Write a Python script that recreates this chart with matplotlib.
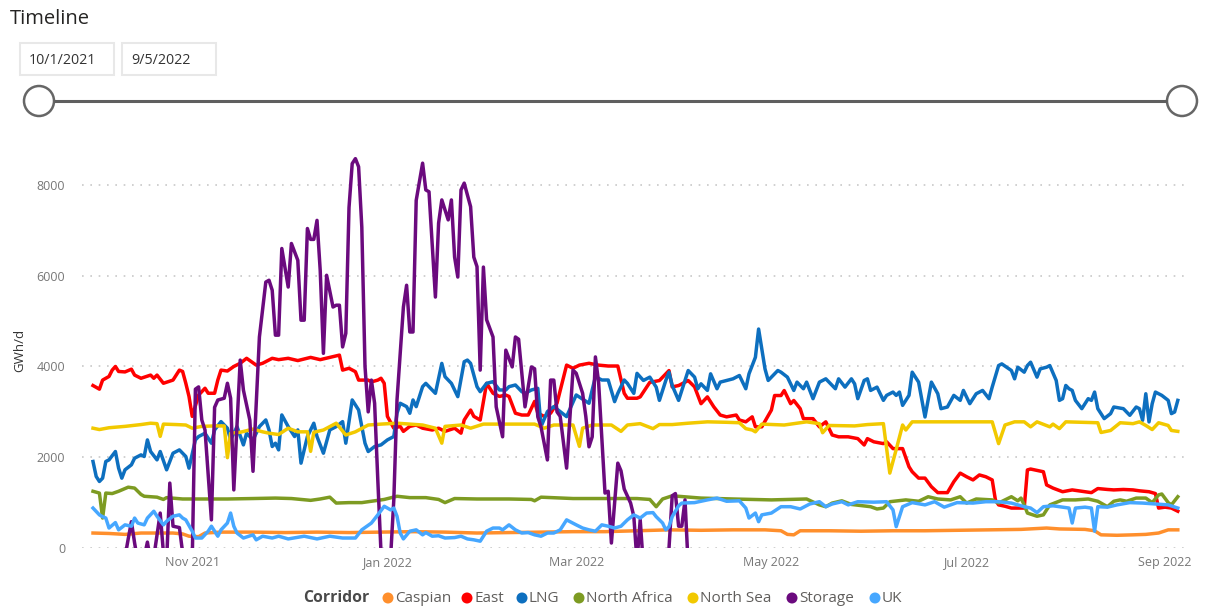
import matplotlib
matplotlib.use("Agg")
import matplotlib.pyplot as plt
import matplotlib.dates as mdates
from matplotlib.patches import Rectangle, Circle
import pandas as pd

plt.rcParams['font.family'] = ['Open Sans', 'DejaVu Sans']

# --- DATA (day offset from 1 Oct 2021, GWh/d) ---
start = pd.Timestamp("2021-10-01")

corridors = ['Caspian', 'East', 'LNG', 'North Africa', 'North Sea', 'Storage', 'UK']
colors = ['#FF8F2C', '#FF0000', '#0D6FBF', '#7D9B22', '#F2C900', '#6B0A7E', '#46A7FF']

caspian = [(0, 330), (5, 320), (10, 300), (15, 330), (20, 330), (25, 330), (28, 310), (30, 260),
           (33, 250), (35, 330), (40, 350), (50, 350), (60, 340), (70, 350), (80, 340), (90, 350),
           (100, 360), (110, 350), (120, 330), (130, 340), (140, 350), (150, 360), (160, 360),
           (170, 380), (180, 400), (190, 390), (200, 400), (210, 400), (215, 380), (217, 300),
           (219, 290), (221, 380), (230, 380), (240, 370), (250, 380), (260, 380), (270, 390),
           (280, 400), (290, 410), (298, 440), (302, 420), (310, 410), (313, 380), (315, 290),
           (320, 280), (325, 290), (329, 300), (333, 330), (336, 400), (339, 400)]

east = [(0, 3580), (2, 3500), (3, 3700), (5, 3780), (6, 3920), (7, 4000), (8, 3890), (10, 3880),
        (12, 3940), (13, 3810), (15, 3740), (18, 3810), (19, 3740), (20, 3810), (22, 3630),
        (25, 3700), (27, 3920), (28, 3890), (29, 3630), (30, 3340), (31, 2900), (33, 3370),
        (35, 3520), (36, 3410), (38, 3410), (39, 3700), (40, 3920), (42, 3900), (44, 4000),
        (46, 4070), (48, 4180), (51, 4030), (53, 4070), (56, 4180), (58, 4150), (61, 4180),
        (64, 4130), (68, 4200), (71, 4150), (74, 4200), (77, 4250), (78, 3920), (80, 3960),
        (82, 3885), (83, 3700), (86, 3700), (87, 3660), (89, 3700), (90, 3740), (91, 3630),
        (92, 2900), (94, 2640), (96, 2680), (97, 2570), (99, 2680), (101, 2710), (103, 2640),
        (106, 2600), (108, 2640), (110, 2570), (113, 2640), (115, 2530), (116, 2820), (118, 3040),
        (119, 2900), (121, 2820), (123, 3630), (125, 3410), (127, 3340), (129, 3370), (130, 3340),
        (132, 2970), (134, 2930), (136, 2930), (138, 3230), (139, 2970), (141, 2900), (143, 2970),
        (145, 3190), (148, 4030), (150, 3960), (152, 4030), (155, 4070), (158, 4030), (161, 4010),
        (164, 4010), (166, 3410), (167, 3300), (170, 3300), (171, 3330), (174, 3650), (177, 3690),
        (180, 3910), (181, 3550), (183, 3580), (186, 3690), (188, 3550), (190, 3180), (192, 3330),
        (194, 3110), (196, 2930), (198, 2890), (201, 2930), (202, 2820), (204, 2780), (206, 2890),
        (207, 2670), (209, 2670), (212, 3040), (213, 3360), (215, 3360), (216, 3470), (218, 3180),
        (219, 3250), (221, 3070), (222, 2850), (225, 2850), (227, 2670), (229, 2780), (231, 2490),
        (233, 2450), (236, 2450), (239, 2410), (241, 2270), (242, 2410), (244, 2340), (247, 2300),
        (248, 2340), (250, 2190), (252, 2190), (253, 2190), (255, 1790), (256, 1680), (258, 1540),
        (260, 1540), (262, 1350), (264, 1220), (267, 1220), (269, 1460), (271, 1650), (273, 1570),
        (275, 1500), (277, 1610), (279, 1570), (281, 1500), (282, 1060), (283, 950), (285, 920),
        (287, 880), (291, 880), (292, 1720), (293, 1740), (297, 1680), (298, 1390), (300, 1320),
        (303, 1240), (306, 1280), (310, 1240), (312, 1220), (314, 1310), (317, 1290), (319, 1280),
        (322, 1290), (325, 1280), (327, 1260), (330, 1240), (332, 1200), (333, 880), (335, 900),
        (337, 880), (339, 810)]

lng = [(0, 1906), (1, 1576), (2, 1466), (3, 1539), (4, 1906), (5, 1942), (7, 2126), (8, 1759),
       (9, 1539), (10, 1723), (12, 1833), (13, 1979), (15, 2052), (16, 2016), (17, 2382), (18, 2126),
       (20, 1942), (21, 2126), (23, 1723), (25, 2089), (27, 2162), (29, 2016), (30, 1759), (32, 2382),
       (33, 2456), (35, 2529), (37, 2309), (38, 2602), (40, 2785), (42, 2639), (43, 2382), (45, 2675),
       (47, 2272), (48, 2529), (50, 2382), (52, 2675), (54, 2822), (55, 2602), (56, 2236),
       (57, 2309), (58, 2162), (59, 2932), (61, 2675), (63, 2456), (64, 2602), (65, 1869), (67, 2456),
       (69, 2749), (70, 2456), (72, 2089), (74, 2602), (76, 2675), (78, 2785), (79, 2309), (81, 3262),
       (83, 3042), (85, 2309), (86, 2126), (88, 2236), (90, 2272), (92, 2382), (94, 2456), (95, 2969),
       (96, 3189), (98, 3115), (99, 2969), (100, 3262), (101, 3115), (103, 3555), (104, 3628),
       (106, 3482), (107, 3408), (109, 4068), (110, 3775), (112, 3628), (114, 3335),
       (116, 4105), (117, 4141), (118, 4068), (120, 3555), (121, 3445), (123, 3628), (125, 3665),
       (127, 3482), (129, 3482), (130, 3555), (132, 3592), (134, 3445), (135, 3408), (137, 3482),
       (139, 3518), (140, 2675), (142, 3005), (144, 3115), (146, 3005), (148, 2895), (151, 3372),
       (155, 3189), (157, 3775), (159, 3702), (161, 3702), (163, 3225), (164, 3408), (166, 3702),
       (167, 3628), (169, 3408), (170, 3848),
       (172, 3692), (174, 3765), (176, 3545), (177, 3253), (179, 3692), (180, 3874), (181, 3582),
       (183, 3253), (184, 3472), (186, 3911), (188, 3765), (189, 3509), (190, 3618), (192, 3472),
       (193, 3838), (195, 3509), (196, 3655), (198, 3692), (200, 3728), (202, 3801), (204, 3509),
       (205, 3838), (207, 4203), (208, 4825), (210, 3947), (211, 3692), (214, 3911), (215, 3874),
       (217, 3765), (219, 3472), (220, 3655), (222, 3509), (223, 3655), (225, 3290), (227, 3655),
       (229, 3728),
       (230, 3655), (232, 3509), (233, 3728), (235, 3545), (237, 3728), (238, 3618), (239, 3290),
       (241, 3692), (242, 3728), (243, 3472), (245, 3545), (247, 3253), (248, 3363), (250, 3436),
       (251, 3363), (252, 3436), (253, 3143), (255, 3363), (256, 3874), (258, 3655), (260, 2887),
       (262, 3655), (264, 3399), (265, 3070), (267, 3107), (269, 3363), (271, 3253), (272, 3472),
       (274, 3180), (276, 3399), (278, 3472), (280, 3290), (281, 3545), (283, 4020), (284, 4057),
       (287, 3911),
       (288, 3728), (289, 3984), (291, 3874), (292, 4020), (293, 4094), (295, 3765), (296, 3947),
       (298, 3984), (299, 4020), (301, 3692), (302, 3253), (303, 3290), (304, 3582), (305, 3509),
       (306, 3472), (307, 3253), (309, 3070), (311, 3290), (312, 3253), (313, 3436), (314, 3070),
       (316, 2851), (318, 2961), (319, 3107), (322, 3070), (324, 2924), (326, 3107), (327, 3070),
       (328, 2814), (329, 3399), (330, 2778), (331, 3180), (332, 3436), (334, 3363), (336, 3253),
       (337, 2961), (338, 2997), (339, 3253)]

north_africa = [(0, 1250), (2, 1210), (3, 660), (4, 1210), (6, 1200), (8, 1250), (11, 1340),
                (13, 1320), (15, 1180), (16, 1140), (20, 1120), (22, 1070), (23, 1110), (28, 1080),
                (35, 1080), (42, 1080), (50, 1090), (57, 1100), (62, 1090), (68, 1050), (71, 1080),
                (74, 1120), (76, 990), (80, 1000), (84, 1000), (87, 1030), (91, 1070), (95, 1140),
                (99, 1110), (104, 1110), (108, 1070), (110, 1000), (113, 1090), (120, 1080),
                (130, 1080), (137, 1070), (138, 1040), (140, 1120), (150, 1090), (160, 1090),
                (170, 1090), (174, 1070), (176, 910), (178, 1080), (181, 1150), (190, 1100),
                (200, 1080), (212, 1060), (223, 1080), (227, 950), (229, 910), (231, 990), (234, 1040),
                (237, 960), (243, 910), (245, 860), (247, 880), (249, 1020), (254, 1060), (258, 1030),
                (261, 1130), (264, 1080), (268, 1060), (271, 1130), (273, 990), (276, 1080),
                (281, 1060), (283, 990), (287, 1130), (289, 1040), (290, 1100), (291, 950), (292, 770),
                (295, 700), (297, 730), (299, 950), (303, 1060), (307, 1060), (311, 1080), (314, 1030),
                (317, 910), (319, 1030), (321, 1060), (323, 1030), (326, 1100), (329, 1100),
                (331, 1000), (333, 1170), (334, 1190), (336, 1000), (337, 950), (339, 1130)]

north_sea = [(0, 2640), (2, 2610), (5, 2650), (10, 2680), (15, 2720), (18, 2750), (20, 2740),
             (21, 2460), (22, 2730), (26, 2720), (29, 2710), (31, 2640), (34, 2680), (38, 2690),
             (41, 2690), (42, 1990), (43, 2530), (46, 2550), (50, 2620), (53, 2560), (55, 2530),
             (58, 2500), (61, 2640), (64, 2560), (67, 2560), (68, 2130), (69, 2550), (72, 2600),
             (76, 2750), (79, 2490), (82, 2560), (86, 2710), (90, 2730), (95, 2750), (99, 2730),
             (103, 2710), (107, 2640), (109, 2310), (110, 2680), (115, 2710), (118, 2640),
             (122, 2730), (130, 2730), (138, 2730), (141, 2640), (144, 2710), (150, 2710),
             (152, 2240), (153, 2640), (156, 2710), (162, 2710), (165, 2570), (167, 2710),
             (171, 2740), (175, 2630), (177, 2720), (181, 2720), (186, 2750), (192, 2780),
             (198, 2770), (202, 2760), (204, 2630), (206, 2600), (207, 2560), (209, 2730),
             (216, 2710), (223, 2780), (227, 2740), (228, 2540), (230, 2700), (238, 2690),
             (242, 2720), (247, 2740), (249, 1650), (251, 2170), (253, 2710), (254, 2600),
             (256, 2780), (270, 2780), (281, 2780), (283, 2300), (285, 2710), (288, 2780),
             (291, 2780), (293, 2670), (295, 2780), (299, 2670), (300, 2730), (302, 2630),
             (304, 2780), (314, 2760), (315, 2545), (318, 2590), (321, 2760), (325, 2740),
             (327, 2780), (329, 2700), (331, 2610), (333, 2760), (336, 2700), (337, 2590), (339, 2570)]

storage = [(0, -1500), (5, -1200), (9, -600), (11, 200), (12, 580), (13, 110), (14, -300),
           (16, -200), (17, 130), (18, -300), (19, -200), (21, 770), (22, -100), (23, -300),
           (24, 1430), (25, 480), (27, 450), (28, -100), (29, -300), (31, -300), (32, 3500),
           (33, 3550), (34, 2820), (35, 2600), (37, 620), (38, 3100), (39, 3260), (41, 3300),
           (42, 3630), (43, 3300), (44, 1280), (46, 4140), (47, 3480), (49, 2820), (50, 1690),
           (52, 4650), (54, 5860), (55, 5900), (56, 5680), (57, 4690), (58, 4690), (59, 6600),
           (61, 5750), (62, 6710), (64, 6340), (65, 5020), (66, 5020), (67, 7040), (68, 6800),
           (69, 6800), (70, 7220), (71, 6120), (72, 4290), (73, 6010), (75, 5310), (76, 5350),
           (77, 5350), (78, 4430), (79, 4730), (80, 7500), (81, 8470), (82, 8580), (83, 8400),
           (84, 7070), (85, 4000), (86, 3000), (87, 3700), (88, 3190), (89, 1500), (90, -100),
           (91, -800), (92, -900), (93, -200), (94, 1060), (95, 3260), (97, 5310), (98, 5790),
           (99, 4760), (100, 4760), (101, 7660), (103, 8480), (104, 7890), (105, 7850),
           (107, 5530), (108, 7160), (109, 7670), (111, 7230), (112, 7670), (113, 6410),
           (114, 5970), (115, 7890), (116, 8040), (118, 7520), (119, 6410), (120, 6200),
           (121, 3920), (122, 6190), (123, 5030), (125, 4650), (126, 3110), (128, 2450),
           (129, 4360), (131, 3990), (132, 4650), (133, 4600), (135, 3110), (137, 3990),
           (138, 3950), (139, 2890), (140, 2670), (142, 1940), (143, 3700), (144, 3700),
           (145, 3000), (146, 2900), (148, 1760), (150, 3920), (151, 3850), (153, 3410),
           (154, 2900), (155, 2230), (156, 2450), (157, 4210), (158, 3650), (160, 1210),
           (161, 1250), (162, 110), (164, 1870), (165, 1700), (166, 1300), (168, 990), (169, 700),
           (170, -300), (171, 620), (172, -400), (175, -900), (179, -700), (180, 0), (181, 1150),
           (182, 1200), (183, 480), (184, 480), (185, 1060), (186, -400), (190, -1800),
           (200, -2500), (220, -3000), (250, -3200), (280, -3000), (310, -2800), (339, -2500)]

uk = [(0, 880), (2, 730), (3, 690), (4, 660), (5, 440), (7, 560), (8, 400), (10, 510), (12, 480),
      (13, 660), (14, 550), (16, 510), (17, 660), (19, 810), (20, 700), (22, 510), (23, 590),
      (25, 700), (27, 730), (28, 660), (29, 620), (31, 370), (32, 220), (34, 220), (36, 370),
      (37, 480), (39, 260), (40, 400), (42, 550), (43, 770), (44, 480), (45, 330), (47, 220),
      (50, 290), (51, 180), (53, 260), (56, 220), (58, 260), (61, 200), (66, 260), (70, 200),
      (74, 260), (78, 220), (82, 220), (84, 400), (87, 550), (89, 730), (91, 920), (93, 840),
      (94, 880), (95, 700), (96, 330), (97, 200), (99, 370), (101, 400), (103, 290), (104, 340),
      (106, 260), (108, 270), (110, 220), (113, 230), (115, 260), (117, 200), (119, 180),
      (121, 150), (123, 370), (125, 440), (127, 440), (128, 400), (130, 510), (132, 400),
      (134, 330), (136, 340), (138, 290), (140, 260), (142, 330), (144, 330), (146, 400),
      (148, 620), (151, 510), (153, 440), (155, 400), (157, 370), (159, 510), (161, 480),
      (163, 440), (165, 480), (167, 620), (169, 730), (171, 660), (173, 770), (175, 780),
      (176, 690), (178, 550), (179, 400), (180, 470), (181, 690), (183, 930), (184, 990),
      (188, 1000), (192, 1060), (195, 1100), (198, 1030), (202, 1040), (204, 880), (205, 660),
      (207, 770), (208, 580), (209, 730), (212, 770), (215, 910), (218, 910), (221, 860),
      (224, 970), (227, 1020), (229, 910), (231, 970), (234, 1020), (236, 950), (239, 1020),
      (244, 1010), (248, 1020), (250, 840), (251, 470), (253, 910), (256, 1000), (260, 950),
      (263, 1020), (266, 900), (270, 1000), (275, 990), (279, 1020), (283, 1020), (287, 990),
      (291, 910), (293, 880), (295, 780), (297, 910), (300, 930), (303, 900), (305, 880),
      (306, 550), (307, 880), (310, 900), (312, 880), (313, 370), (314, 910), (317, 900),
      (320, 950), (324, 1000), (328, 990), (332, 970), (336, 950), (339, 880)]

series = [caspian, east, lng, north_africa, north_sea, storage, uk]

date_from, date_to = "10/1/2021", "9/5/2022"
yticks = [0, 2000, 4000, 6000, 8000]

# --- FIGURE ---
W, H = 1231, 610
fig = plt.figure(figsize=(W / 100, H / 100), dpi=100)

ax = fig.add_axes([82 / W, 1 - 548 / H, (1185 - 82) / W, (548 - 150) / H])
for pts, c in zip(series, colors):
    days = [d for d, v in pts]
    vals = [v for d, v in pts]
    dates = start + pd.to_timedelta(days, unit="D")
    ax.plot(dates, vals, color=c, lw=2.5, solid_joinstyle='round')

ax.set_xlim(start - pd.Timedelta(days=3.44), start + pd.Timedelta(days=341.25))
ax.set_ylim(0, 8770)
ax.set_yticks(yticks)
ax.set_yticklabels([str(t) for t in yticks])
ax.xaxis.set_major_locator(mdates.MonthLocator(bymonth=[11, 1, 3, 5, 7, 9]))
ax.xaxis.set_major_formatter(mdates.DateFormatter('%b %Y'))
ax.grid(axis='y', color='#C8C8C8', linestyle=(0, (1, 4)), linewidth=1.2)
ax.set_axisbelow(True)
for s in ax.spines.values():
    s.set_visible(False)
ax.tick_params(length=0, colors='#777777', labelsize=9)
ax.tick_params(axis='y', pad=12)
ax.tick_params(axis='x', pad=6)

# overlay in pixel coordinates for the slicer, axis title and legend
ui = fig.add_axes([0, 0, 1, 1])
ui.set_xlim(0, W)
ui.set_ylim(H, 0)
ui.axis('off')

ui.text(10, 19, "Timeline", fontsize=14.5, color='#252423', va='center', ha='left')
ui.add_patch(Rectangle((20, 43), 94, 32, fc='white', ec='#E8E8E8', lw=1.5))
ui.add_patch(Rectangle((122, 43), 94, 32, fc='white', ec='#E8E8E8', lw=1.5))
ui.text(29, 60, date_from, fontsize=10.3, color='#333333', va='center', ha='left')
ui.text(131, 60, date_to, fontsize=10.3, color='#333333', va='center', ha='left')
ui.plot([54, 1167], [101, 101], color='#5F5F5F', lw=2.2, solid_capstyle='butt')
ui.add_patch(Circle((39, 101), 15, fc='white', ec='#666666', lw=1.8))
ui.add_patch(Circle((1182, 101), 15, fc='white', ec='#666666', lw=1.8))

ui.text(20, 350, "GWh/d", rotation=90, fontsize=9.5, color='#333333', ha='center', va='center')

ui.text(303, 598, "Corridor", fontsize=11.3, fontweight='bold', color='#4A4A4A',
        ha='left', va='center')
marker_x = [388, 467, 522, 579, 693, 792, 875]
for name, c, mx in zip(corridors, colors, marker_x):
    ui.add_patch(Circle((mx, 598), 5.5, fc=c, ec='none'))
    ui.text(mx + 7, 598, name, fontsize=11, color='#605E5C', ha='left', va='center')

fig.savefig('out.png', dpi=100)
